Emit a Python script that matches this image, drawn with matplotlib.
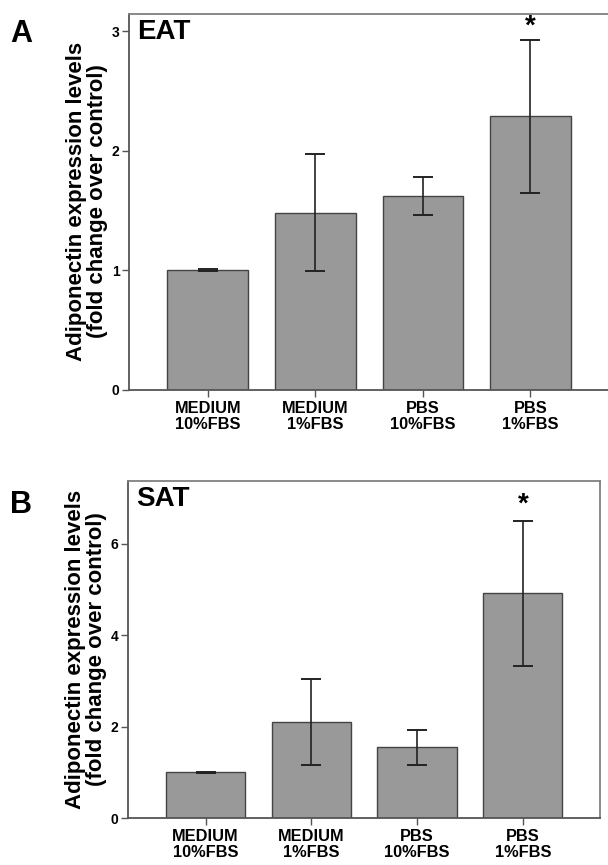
import matplotlib
matplotlib.use("Agg")
import matplotlib.pyplot as plt

plt.rcParams['font.family'] = ['Liberation Sans', 'DejaVu Sans']
plt.rcParams['font.weight'] = 'bold'

# data
groups = ['MEDIUM\n10%FBS', 'MEDIUM\n1%FBS', 'PBS\n10%FBS', 'PBS\n1%FBS']

eat_mean = [1.0, 1.48, 1.62, 2.29]
eat_low = [0.99, 0.99, 1.46, 1.65]
eat_high = [1.01, 1.97, 1.78, 2.93]

sat_mean = [1.0, 2.10, 1.55, 4.92]
sat_low = [0.99, 1.15, 1.17, 3.33]
sat_high = [1.01, 3.05, 1.93, 6.50]

W, H = 608, 865
fig = plt.figure(figsize=(W / 100, H / 100), dpi=100)


def px_axes(left, top, right, bottom):
    return fig.add_axes([left / W, 1 - bottom / H, (right - left) / W, (bottom - top) / H])


def panel(ax, mean, low, high, ymax, yticks, title, star_y, letter, letter_y):
    x = list(range(len(groups)))
    err = [[m - l for m, l in zip(mean, low)], [h - m for m, h in zip(mean, high)]]
    ax.bar(x, mean, width=0.75, color='#999999', edgecolor='#444444', linewidth=1.0, zorder=2)
    ax.errorbar(x, mean, yerr=err, fmt='none', ecolor='#222222', elinewidth=1.2,
                capsize=7, capthick=1.4, zorder=3)
    ax.set_xlim(-0.73, 3.73)
    ax.set_ylim(0, ymax)
    ax.set_yticks(yticks)
    ax.set_xticks(x)
    ax.set_xticklabels(groups, fontsize=11.8, fontweight='bold', linespacing=1.1)
    ax.tick_params(axis='y', labelsize=10, length=5, width=1, color='#555555', pad=2)
    ax.tick_params(axis='x', length=5, width=1, color='#555555', pad=3)
    for s in ax.spines.values():
        s.set_color('#808080')
        s.set_linewidth(1.3)
    ax.spines['left'].set_color('#555555')
    ax.spines['bottom'].set_color('#555555')
    ax.set_ylabel('Adiponectin expression levels\n(fold change over control)',
                  fontsize=16, fontweight='bold', linespacing=1.0, labelpad=3)
    ax.text(0.017, 0.985, title, transform=ax.transAxes, fontsize=20, fontweight='bold',
            ha='left', va='top')
    ax.text(3, star_y, '*', fontsize=20, fontweight='bold', ha='center', va='center')
    fig.text(10 / W, 1 - letter_y / H, letter, fontsize=22, fontweight='bold',
             ha='left', va='center')


ax1 = px_axes(129.3, 13.5, 609, 389.5)
panel(ax1, eat_mean, eat_low, eat_high, 3.15, [0, 1, 2, 3], 'EAT', 3.04, 'A', 34)

ax2 = px_axes(128.3, 481, 600, 818)
panel(ax2, sat_mean, sat_low, sat_high, 7.37, [0, 2, 4, 6], 'SAT', 6.85, 'B', 505)

fig.savefig('out.png', dpi=100)
